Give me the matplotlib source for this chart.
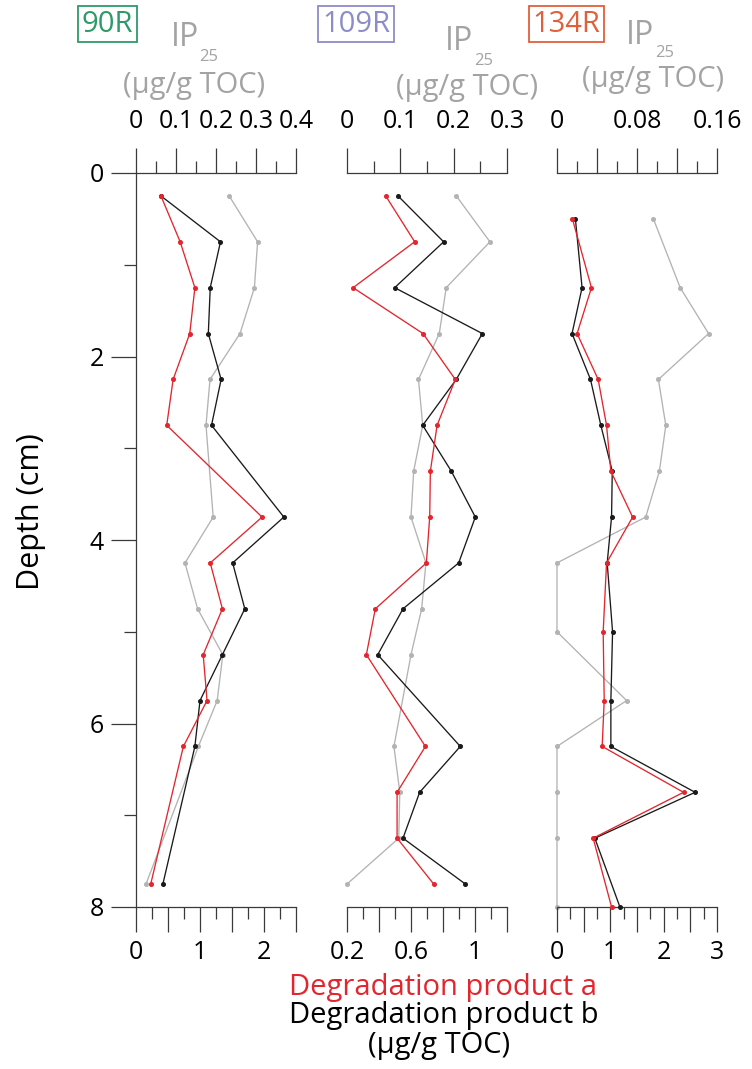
import matplotlib
matplotlib.use("Agg")
import matplotlib.pyplot as plt

plt.rcParams['font.family'] = ['Open Sans', 'DejaVu Sans']

# ---------------- data ----------------
samples = ["90R", "109R", "134R"]
sample_colors = ["#2e9a68", "#8c8cc8", "#e0603a"]

depth_90 = [0.25, 0.75, 1.25, 1.75, 2.25, 2.75, 3.75, 4.25, 4.75, 5.25, 5.75, 6.25, 7.75]
a_90 = [0.39, 0.69, 0.92, 0.84, 0.58, 0.48, 1.97, 1.16, 1.35, 1.05, 1.11, 0.74, 0.23]
b_90 = [0.39, 1.32, 1.16, 1.13, 1.33, 1.18, 2.31, 1.51, 1.70, 1.35, 1.00, 0.92, 0.42]
ip_90 = [0.233, 0.304, 0.296, 0.26, 0.185, 0.175, 0.193, 0.1225, 0.154, 0.217, 0.203, 0.156, 0.025]

depth_109 = [0.25, 0.75, 1.25, 1.75, 2.25, 2.75, 3.25, 3.75, 4.25, 4.75, 5.25, 6.25, 6.75, 7.25, 7.75]
a_109 = [0.442, 0.623, 0.238, 0.675, 0.877, 0.763, 0.721, 0.717, 0.696, 0.377, 0.321, 0.69, 0.513, 0.513, 0.742]
b_109 = [0.519, 0.804, 0.498, 1.046, 0.883, 0.673, 0.852, 1.002, 0.898, 0.55, 0.392, 0.908, 0.654, 0.55, 0.94]
ip_109 = [0.205, 0.268, 0.186, 0.173, 0.134, 0.142, 0.125, 0.12, 0.148, 0.14, 0.12, 0.088, 0.099, 0.097, 0.0]

depth_134 = [0.5, 1.25, 1.75, 2.25, 2.75, 3.25, 3.75, 4.25, 5.0, 5.75, 6.25, 6.75, 7.25, 8.0]
a_134 = [0.289, 0.646, 0.377, 0.772, 0.929, 1.01, 1.418, 0.929, 0.866, 0.885, 0.847, 2.372, 0.678, 1.023]
b_134 = [0.345, 0.47, 0.282, 0.628, 0.822, 1.036, 1.023, 0.941, 1.042, 1.01, 1.01, 2.59, 0.709, 1.18]
ip_134 = [0.0964, 0.1232, 0.1516, 0.1014, 0.1088, 0.1024, 0.0887, 0.0, 0.0, 0.0696, 0.0, 0.0, 0.0, 0.0]

# axis scales
ip_lim = [(0, 0.4), (0, 0.3), (0, 0.16)]
ip_major = [[0, 0.1, 0.2, 0.3, 0.4], [0, 0.1, 0.2, 0.3], [0, 0.04, 0.08, 0.12, 0.16]]
ip_minor = [[0.05, 0.15, 0.25, 0.35], [0.05, 0.15, 0.25], [0.02, 0.06, 0.10, 0.14]]
ip_labels = [["0", "0.1", "0.2", "0.3", "0.4"], ["0", "0.1", "0.2", "0.3"], ["0", "", "0.08", "", "0.16"]]

deg_lim = [(0, 2.5), (0.2, 1.2), (0, 3)]
deg_major = [[0, 0.5, 1, 1.5, 2, 2.5], [0.2, 0.4, 0.6, 0.8, 1.0, 1.2], [0, 0.5, 1, 1.5, 2, 2.5, 3]]
deg_minor = [[0.25, 0.75, 1.25, 1.75, 2.25], [0.3, 0.5, 0.7, 0.9, 1.1], [0.25, 0.75, 1.25, 1.75, 2.25, 2.75]]
deg_labels = [["0", "", "1", "", "2", ""], ["0.2", "", "0.6", "", "1", ""], ["0", "", "1", "", "2", "", "3"]]

depth_major = [0, 2, 4, 6, 8]
depth_minor = [1, 3, 5, 7]

depths = [depth_90, depth_109, depth_134]
a_vals = [a_90, a_109, a_134]
b_vals = [b_90, b_109, b_134]
ip_vals = [ip_90, ip_109, ip_134]

# ---------------- figure ----------------
W, H = 752, 1069
fig = plt.figure(figsize=(W / 100, H / 100), dpi=100)

def fx(x):
    return x / W

def fy(y):
    return 1 - y / H

RED = "#e3262d"
BLACK = "#1a1a1a"
GRAY = "#b3b3b3"
TXTGRAY = "#a3a3a3"
AXC = "#3a3a3a"
TICKFS = 18
MAJ, MIN = 18, 8.6
MS = 2.6
LW = 0.95

panel_left = [136, 347, 557]
pw = 160
top_px, bot_px = 173, 907

for i in range(3):
    ax = fig.add_axes([fx(panel_left[i]), fy(bot_px), pw / W, (bot_px - top_px) / H])
    ax2 = ax.twiny()
    ax.patch.set_alpha(0)
    ax2.patch.set_alpha(0)

    # IP25 on the top axis
    ax.plot(ip_vals[i], depths[i], color=GRAY, lw=LW, marker='o', ms=MS,
            mec=GRAY, mfc=GRAY, clip_on=False, zorder=3)
    ax.set_xlim(*ip_lim[i])
    ax.set_ylim(8, 0)
    ax.xaxis.set_ticks_position('top')
    ax.set_xticks(ip_major[i], labels=ip_labels[i])
    ax.set_xticks(ip_minor[i], minor=True)
    ax.tick_params(axis='x', which='major', length=MAJ, width=0.9, color=AXC,
                   direction='out', pad=10, labelsize=TICKFS, top=True, bottom=False,
                   labeltop=True, labelbottom=False)
    ax.tick_params(axis='x', which='minor', length=MIN, width=0.9, color=AXC,
                   direction='out', top=True, bottom=False)
    for s in ['right', 'bottom']:
        ax.spines[s].set_visible(False)
    ax.spines['top'].set_color(AXC)
    ax.spines['top'].set_linewidth(0.9)
    if i == 0:
        ax.spines['left'].set_color(AXC)
        ax.spines['left'].set_linewidth(0.9)
        ax.set_yticks(depth_major, labels=[str(d) for d in depth_major])
        ax.set_yticks(depth_minor, minor=True)
        ax.tick_params(axis='y', which='major', length=MAJ, width=0.9, color=AXC,
                       direction='out', pad=5, labelsize=TICKFS)
        ax.tick_params(axis='y', which='minor', length=MIN, width=0.9, color=AXC,
                       direction='out')
    else:
        ax.spines['left'].set_visible(False)
        ax.set_yticks([])
        ax.set_yticks([], minor=True)

    # degradation products on the bottom axis
    ax2.plot(b_vals[i], depths[i], color=BLACK, lw=LW, marker='o', ms=MS,
             mec=BLACK, mfc=BLACK, clip_on=False, zorder=4)
    ax2.plot(a_vals[i], depths[i], color=RED, lw=LW, marker='o', ms=MS,
             mec=RED, mfc=RED, clip_on=False, zorder=5)
    ax2.set_xlim(*deg_lim[i])
    ax2.set_ylim(8, 0)
    ax2.xaxis.set_ticks_position('bottom')
    ax2.set_xticks(deg_major[i], labels=deg_labels[i])
    ax2.set_xticks(deg_minor[i], minor=True)
    ax2.tick_params(axis='x', which='major', length=MAJ, width=0.9, color=AXC,
                    direction='out', pad=5.5, labelsize=TICKFS, top=False, bottom=True,
                    labeltop=False, labelbottom=True)
    ax2.tick_params(axis='x', which='minor', length=MIN, width=0.9, color=AXC,
                    direction='out', top=False, bottom=True)
    for s in ['left', 'right', 'top']:
        ax2.spines[s].set_visible(False)
    ax2.spines['bottom'].set_color(AXC)
    ax2.spines['bottom'].set_linewidth(0.9)

# sample labels
title_cx = [107.5, 356, 566.5]
for name, col, cx in zip(samples, sample_colors, title_cx):
    fig.text(fx(cx), fy(24), name, color=col, fontsize=21, ha='center', va='center',
             bbox=dict(boxstyle='square,pad=0.12', fc='none', ec=col, lw=1.3))

# IP25 labels
ip_x = [184.5, 459, 640]
ip_y = [38, 42, 36]
sub_dy = [19, 19, 17]
unit_x = [194, 467, 653]
unit_y = [86, 87, 80]
for i in range(3):
    fig.text(fx(ip_x[i]), fy(ip_y[i]), "IP", color=TXTGRAY, fontsize=23,
             ha='center', va='center')
    fig.text(fx(ip_x[i] + 15), fy(ip_y[i] + sub_dy[i]), "25", color=TXTGRAY, fontsize=12,
             ha='left', va='center')
    fig.text(fx(unit_x[i]), fy(unit_y[i]), "(µg/g TOC)", color=TXTGRAY, fontsize=21,
             ha='center', va='center')

fig.text(fx(31), fy(512), "Depth (cm)", rotation=90, fontsize=22, color='black',
         ha='center', va='center')

fig.text(fx(443), fy(987), "Degradation product a", color=RED, fontsize=21,
         ha='center', va='center')
fig.text(fx(444), fy(1016), "Degradation product b", color='black', fontsize=21,
         ha='center', va='center')
fig.text(fx(439), fy(1046), "(µg/g TOC)", color='black', fontsize=21,
         ha='center', va='center')

fig.savefig("out.png", dpi=100)
